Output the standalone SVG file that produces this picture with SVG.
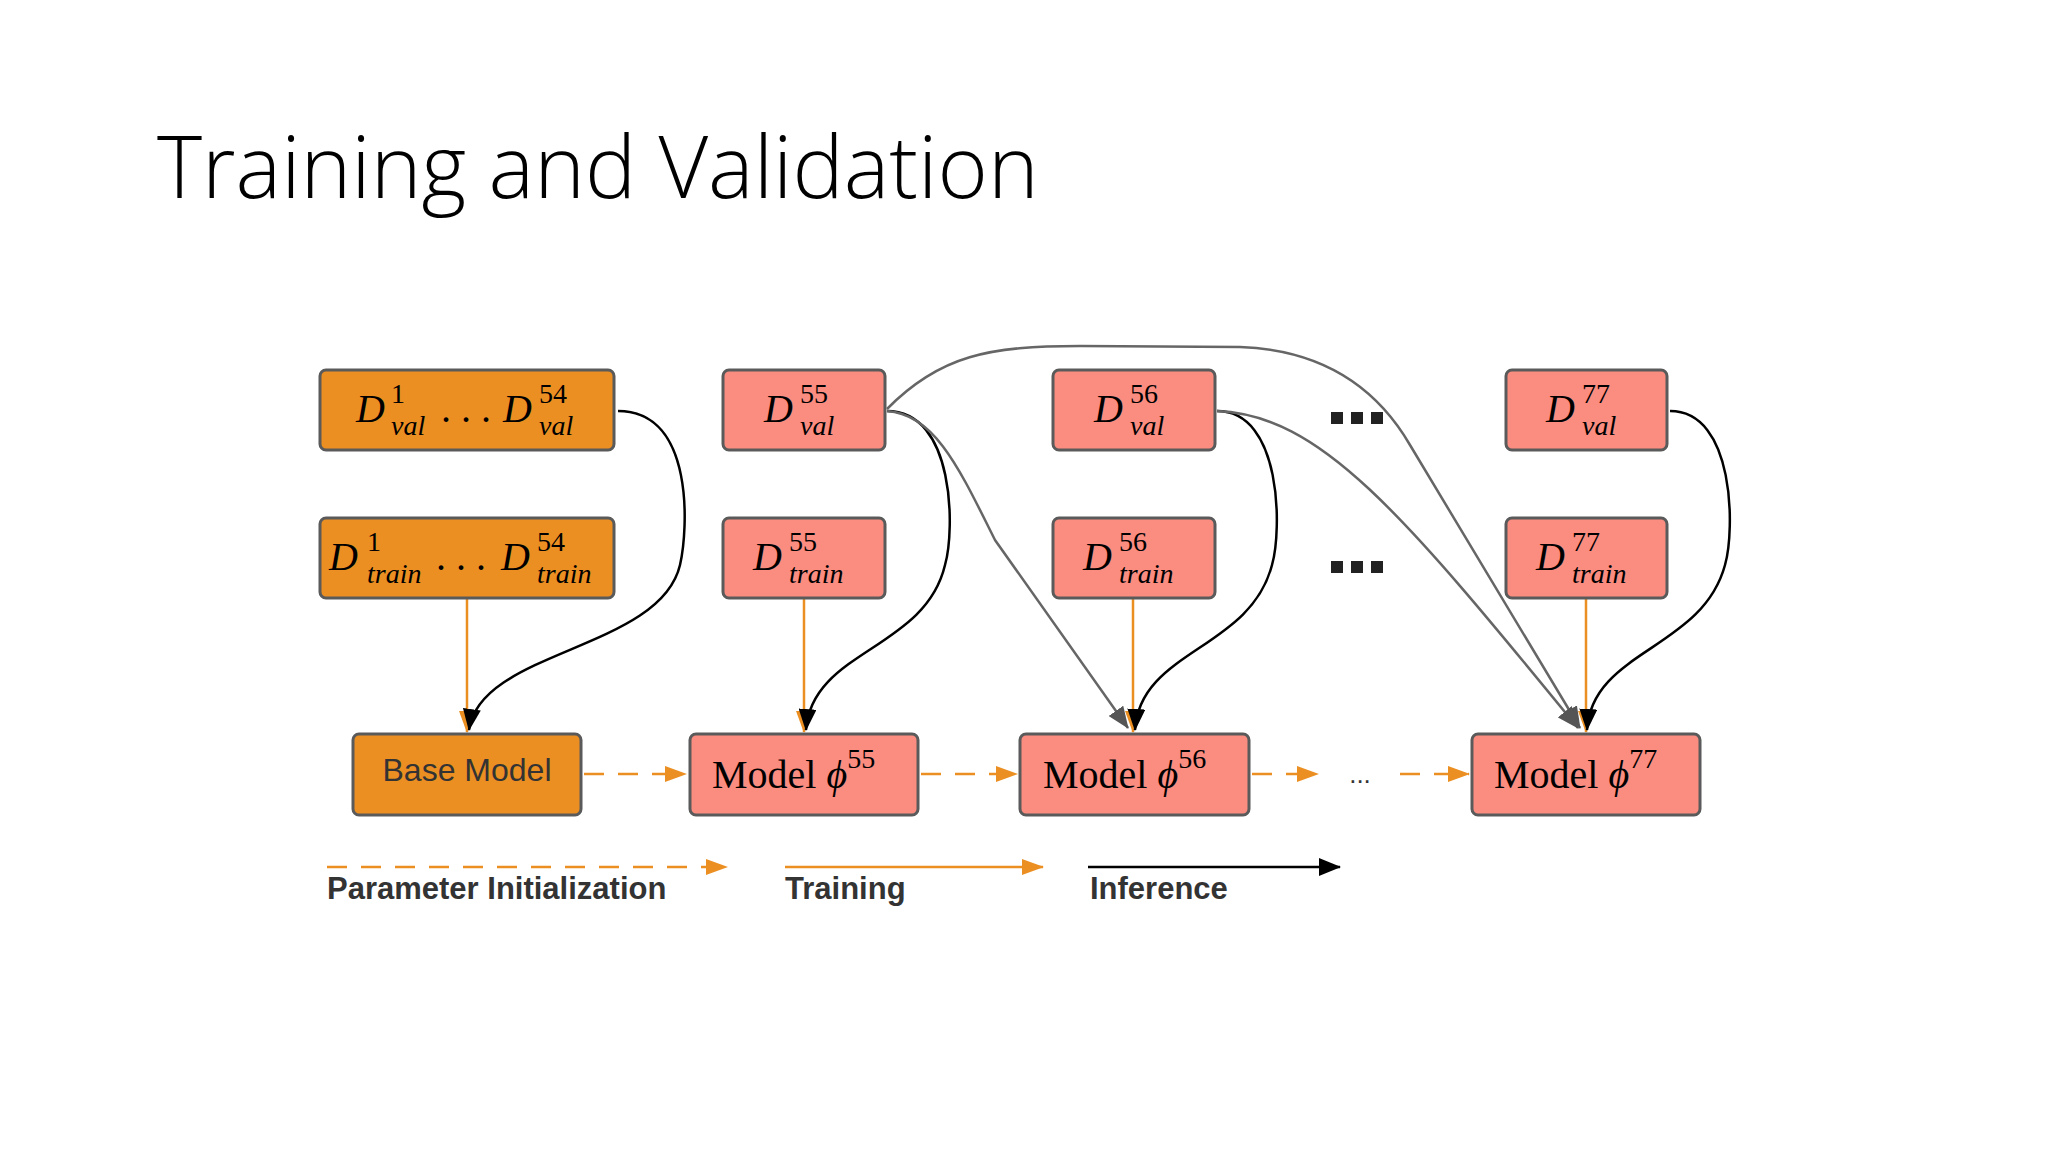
<svg xmlns="http://www.w3.org/2000/svg" width="2048" height="1152" viewBox="0 0 2048 1152">
<style>
.bo{fill:#EC8F22;stroke:#5a5a5a;stroke-width:3}
.bp{fill:#FA8C80;stroke:#5a5a5a;stroke-width:3}
.m{font-family:"Liberation Serif",serif;fill:#000}
.i{font-style:italic}
.big{font-size:40px}
.sm{font-size:28px}
.lg{font-family:"Liberation Sans",sans-serif;font-weight:bold;font-size:31px;fill:#333}
.or{stroke:#EC8F22;stroke-width:2.5;fill:none}
.od{stroke:#EC8F22;stroke-width:2.5;fill:none;stroke-dasharray:20 14}
.bk{stroke:#000;stroke-width:2.5;fill:none}
.gy{stroke:#666;stroke-width:2.5;fill:none}
.dots{fill:#222}
</style>
<defs>
<marker id="ao" markerWidth="10" markerHeight="10" refX="9" refY="5" orient="auto" markerUnits="userSpaceOnUse" viewBox="0 0 10 10"><path d="M0,0 L10,5 L0,10 z" fill="#EC8F22"/></marker>
<marker id="aol" markerWidth="22" markerHeight="16" refX="21" refY="8" orient="auto" markerUnits="userSpaceOnUse" viewBox="0 0 22 16"><path d="M0,0 L22,8 L0,16 z" fill="#EC8F22"/></marker>
<marker id="ab" markerWidth="22" markerHeight="18" refX="21" refY="9" orient="auto" markerUnits="userSpaceOnUse" viewBox="0 0 22 18"><path d="M0,0 L22,9 L0,18 z" fill="#000"/></marker>
<marker id="ag" markerWidth="22" markerHeight="18" refX="21" refY="9" orient="auto" markerUnits="userSpaceOnUse" viewBox="0 0 22 18"><path d="M0,0 L22,9 L0,18 z" fill="#555"/></marker>
</defs>
<rect width="2048" height="1152" fill="#fff"/>
<text x="157" y="198" font-family="Open Sans, sans-serif" font-weight="300" font-size="86" fill="#000">Training and Validation</text>

<g id="connectors">
<line class="or" x1="467" y1="598" x2="467" y2="732" marker-end="url(#aol)"/>
<line class="or" x1="804" y1="598" x2="804" y2="732" marker-end="url(#aol)"/>
<line class="or" x1="1133" y1="598" x2="1133" y2="732" marker-end="url(#aol)"/>
<line class="or" x1="1586" y1="598" x2="1586" y2="732" marker-end="url(#aol)"/>
<path class="bk" d="M618,411 C695,411 688,530 680,565 C660,650 480,650 469,730" marker-end="url(#ab)"/>
<path class="bk" d="M887,411 C955,411 955,530 945,565 C925,650 812,650 806,730" marker-end="url(#ab)"/>
<path class="bk" d="M1217,411 C1282,411 1282,530 1272,565 C1250,650 1140,650 1135,730" marker-end="url(#ab)"/>
<path class="bk" d="M1670,411 C1735,411 1735,530 1725,565 C1702,650 1592,650 1587,730" marker-end="url(#ab)"/>
<path class="gy" d="M887,411 C935,414 960,470 995,540 L1128,728" marker-end="url(#ag)"/>
<path class="gy" d="M887,409 C940,355 990,346 1080,346 L1240,347 C1320,350 1375,385 1410,445 L1580,728" marker-end="url(#ag)"/>
<path class="gy" d="M1217,411 C1320,415 1400,510 1578,728" marker-end="url(#ag)"/>
<line class="od" x1="584" y1="774" x2="686" y2="774" marker-end="url(#aol)"/>
<line class="od" x1="921" y1="774" x2="1017" y2="774" marker-end="url(#aol)"/>
<line class="od" x1="1252" y1="774" x2="1318" y2="774" marker-end="url(#aol)"/>
<line class="od" x1="1400" y1="774" x2="1469" y2="774" marker-end="url(#aol)"/>
</g>

<g id="dval1_54"><rect class="bo" x="320" y="370" width="294" height="80" rx="6"/>
<text class="m"><tspan class="i big" x="356" y="422">D</tspan><tspan class="sm" x="391" y="403">1</tspan><tspan class="i sm" x="391" y="435">val</tspan><tspan class="big" x="441" y="422">. . .</tspan><tspan class="i big" x="503" y="422">D</tspan><tspan class="sm" x="539" y="403">54</tspan><tspan class="i sm" x="539" y="435">val</tspan></text></g>
<g id="dtrain1_54"><rect class="bo" x="320" y="518" width="294" height="80" rx="6"/>
<text class="m"><tspan class="i big" x="329" y="570">D</tspan><tspan class="sm" x="367" y="551">1</tspan><tspan class="i sm" x="367" y="583">train</tspan><tspan class="big" x="436" y="570">. . .</tspan><tspan class="i big" x="501" y="570">D</tspan><tspan class="sm" x="537" y="551">54</tspan><tspan class="i sm" x="537" y="583">train</tspan></text></g>
<g id="base"><rect class="bo" x="353" y="734" width="228" height="81" rx="6"/>
<text x="467" y="781" text-anchor="middle" font-family="Liberation Sans, sans-serif" font-size="32" fill="#333">Base Model</text></g>

<g id="dval55"><rect class="bp" x="723" y="370" width="162" height="80" rx="6"/>
<text class="m"><tspan class="i big" x="764" y="422">D</tspan><tspan class="sm" x="800" y="403">55</tspan><tspan class="i sm" x="800" y="435">val</tspan></text></g>
<g id="dtrain55"><rect class="bp" x="723" y="518" width="162" height="80" rx="6"/>
<text class="m"><tspan class="i big" x="753" y="570">D</tspan><tspan class="sm" x="789" y="551">55</tspan><tspan class="i sm" x="789" y="583">train</tspan></text></g>
<g id="model55"><rect class="bp" x="690" y="734" width="228" height="81" rx="6"/>
<text class="m"><tspan class="big" x="712" y="788">Model </tspan><tspan class="i big">ϕ</tspan><tspan class="sm" dy="-20">55</tspan></text></g>

<g id="dval56"><rect class="bp" x="1053" y="370" width="162" height="80" rx="6"/>
<text class="m"><tspan class="i big" x="1094" y="422">D</tspan><tspan class="sm" x="1130" y="403">56</tspan><tspan class="i sm" x="1130" y="435">val</tspan></text></g>
<g id="dtrain56"><rect class="bp" x="1053" y="518" width="162" height="80" rx="6"/>
<text class="m"><tspan class="i big" x="1083" y="570">D</tspan><tspan class="sm" x="1119" y="551">56</tspan><tspan class="i sm" x="1119" y="583">train</tspan></text></g>
<g id="model56"><rect class="bp" x="1020" y="734" width="229" height="81" rx="6"/>
<text class="m"><tspan class="big" x="1043" y="788">Model </tspan><tspan class="i big">ϕ</tspan><tspan class="sm" dy="-20">56</tspan></text></g>

<g id="dval77"><rect class="bp" x="1506" y="370" width="161" height="80" rx="6"/>
<text class="m"><tspan class="i big" x="1546" y="422">D</tspan><tspan class="sm" x="1582" y="403">77</tspan><tspan class="i sm" x="1582" y="435">val</tspan></text></g>
<g id="dtrain77"><rect class="bp" x="1506" y="518" width="161" height="80" rx="6"/>
<text class="m"><tspan class="i big" x="1536" y="570">D</tspan><tspan class="sm" x="1572" y="551">77</tspan><tspan class="i sm" x="1572" y="583">train</tspan></text></g>
<g id="model77"><rect class="bp" x="1472" y="734" width="228" height="81" rx="6"/>
<text class="m"><tspan class="big" x="1494" y="788">Model </tspan><tspan class="i big">ϕ</tspan><tspan class="sm" dy="-20">77</tspan></text></g>

<g id="ellipses">
<rect class="dots" x="1331" y="412" width="12" height="12"/><rect class="dots" x="1351" y="412" width="12" height="12"/><rect class="dots" x="1371" y="412" width="12" height="12"/>
<rect class="dots" x="1331" y="561" width="12" height="12"/><rect class="dots" x="1351" y="561" width="12" height="12"/><rect class="dots" x="1371" y="561" width="12" height="12"/>
<text x="1360" y="783" text-anchor="middle" font-family="Liberation Sans, sans-serif" font-size="26" fill="#333">...</text>
</g>

<g id="legend">
<line class="od" x1="327" y1="867" x2="727" y2="867" marker-end="url(#aol)"/>
<line class="or" x1="785" y1="867" x2="1043" y2="867" marker-end="url(#aol)"/>
<line class="bk" x1="1088" y1="867" x2="1340" y2="867" marker-end="url(#ab)"/>
<text class="lg" x="327" y="899">Parameter Initialization</text>
<text class="lg" x="785" y="899">Training</text>
<text class="lg" x="1090" y="899">Inference</text>
</g>
</svg>
